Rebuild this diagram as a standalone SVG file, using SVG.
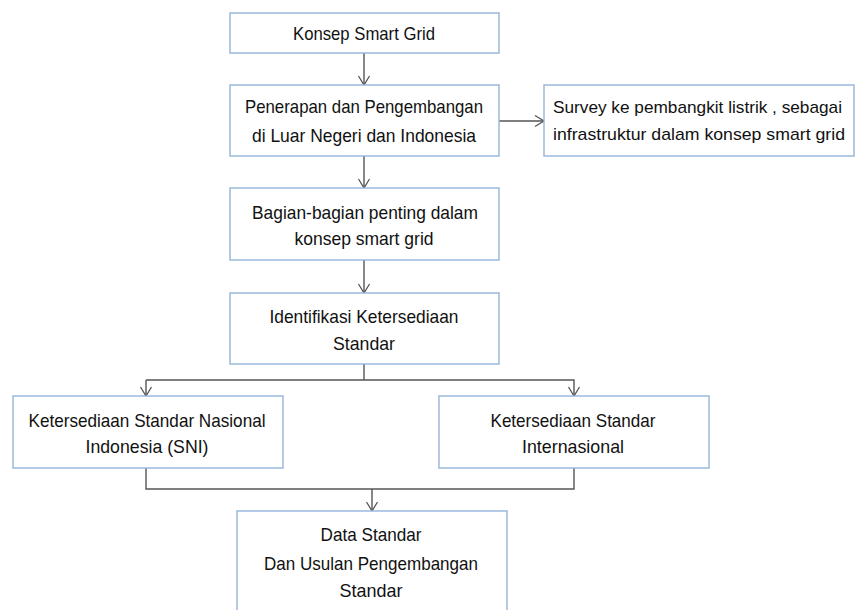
<svg xmlns="http://www.w3.org/2000/svg" width="855" height="610" viewBox="0 0 855 610">
<defs>
<marker id="arr" markerUnits="userSpaceOnUse" markerWidth="14" markerHeight="14" viewBox="0 0 14 14" refX="12" refY="7" orient="auto">
<path d="M3,1.5 L12,7 L3,12.5" fill="none" stroke="#555" stroke-width="1.3"/>
</marker>
<style>
.box{fill:#fff;stroke:#95b3d7;stroke-width:1.4}
.ln{fill:none;stroke:#555;stroke-width:1.4}
.t{font-family:"Liberation Sans",Arial,sans-serif;font-size:19px;fill:#111;text-anchor:middle}
.tl{font-family:"Liberation Sans",Arial,sans-serif;font-size:17px;fill:#111;text-anchor:start}
</style>
</defs>
<rect width="855" height="610" fill="#fff"/>
<g id="connectors">
<line class="ln" x1="364" y1="53" x2="364" y2="85" marker-end="url(#arr)"/>
<line class="ln" x1="364" y1="156" x2="364" y2="188" marker-end="url(#arr)"/>
<line class="ln" x1="499" y1="121" x2="544" y2="121" marker-end="url(#arr)"/>
<line class="ln" x1="364" y1="260" x2="364" y2="293" marker-end="url(#arr)"/>
<line class="ln" x1="364" y1="364" x2="364" y2="380"/>
<polyline class="ln" points="146,380 574,380 574,396" marker-end="url(#arr)"/>
<line class="ln" x1="146" y1="380" x2="146" y2="396" marker-end="url(#arr)"/>
<polyline class="ln" points="146,468 146,489 574,489 574,468"/>
<line class="ln" x1="372" y1="489" x2="372" y2="511" marker-end="url(#arr)"/>
</g>
<g id="n1">
<rect class="box" x="230" y="13" width="269" height="40"/>
<text class="t" x="364" y="40" textLength="142" lengthAdjust="spacingAndGlyphs">Konsep Smart Grid</text>
</g>
<g id="n2">
<rect class="box" x="230" y="85" width="269" height="71"/>
<text class="t" x="364" y="113" textLength="238" lengthAdjust="spacingAndGlyphs">Penerapan dan Pengembangan</text>
<text class="t" x="364" y="142" textLength="224" lengthAdjust="spacingAndGlyphs">di Luar Negeri dan Indonesia</text>
</g>
<g id="n3">
<rect class="box" x="544" y="85" width="310" height="71"/>
<text class="tl" x="553" y="113" textLength="289" lengthAdjust="spacingAndGlyphs">Survey ke pembangkit listrik , sebagai</text>
<text class="tl" x="553" y="140" textLength="292" lengthAdjust="spacingAndGlyphs">infrastruktur dalam konsep smart grid</text>
</g>
<g id="n4">
<rect class="box" x="230" y="188" width="269" height="72"/>
<text class="t" x="365" y="219" textLength="226" lengthAdjust="spacingAndGlyphs">Bagian-bagian penting dalam</text>
<text class="t" x="364" y="245" textLength="139" lengthAdjust="spacingAndGlyphs">konsep smart grid</text>
</g>
<g id="n5">
<rect class="box" x="230" y="293" width="269" height="71"/>
<text class="t" x="364" y="323" textLength="189" lengthAdjust="spacingAndGlyphs">Identifikasi Ketersediaan</text>
<text class="t" x="364" y="350" textLength="62" lengthAdjust="spacingAndGlyphs">Standar</text>
</g>
<g id="n6">
<rect class="box" x="13" y="396" width="270" height="72"/>
<text class="t" x="147" y="427" textLength="237" lengthAdjust="spacingAndGlyphs">Ketersediaan Standar Nasional</text>
<text class="t" x="147" y="453" textLength="123" lengthAdjust="spacingAndGlyphs">Indonesia (SNI)</text>
</g>
<g id="n7">
<rect class="box" x="439" y="396" width="270" height="72"/>
<text class="t" x="573" y="427" textLength="165" lengthAdjust="spacingAndGlyphs">Ketersediaan Standar</text>
<text class="t" x="573" y="453" textLength="102" lengthAdjust="spacingAndGlyphs">Internasional</text>
</g>
<g id="n8">
<rect class="box" x="237" y="511" width="270" height="110"/>
<text class="t" x="371" y="541" textLength="101" lengthAdjust="spacingAndGlyphs">Data Standar</text>
<text class="t" x="371" y="570" textLength="214" lengthAdjust="spacingAndGlyphs">Dan Usulan Pengembangan</text>
<text class="t" x="371" y="597" textLength="63" lengthAdjust="spacingAndGlyphs">Standar</text>
</g>
</svg>
